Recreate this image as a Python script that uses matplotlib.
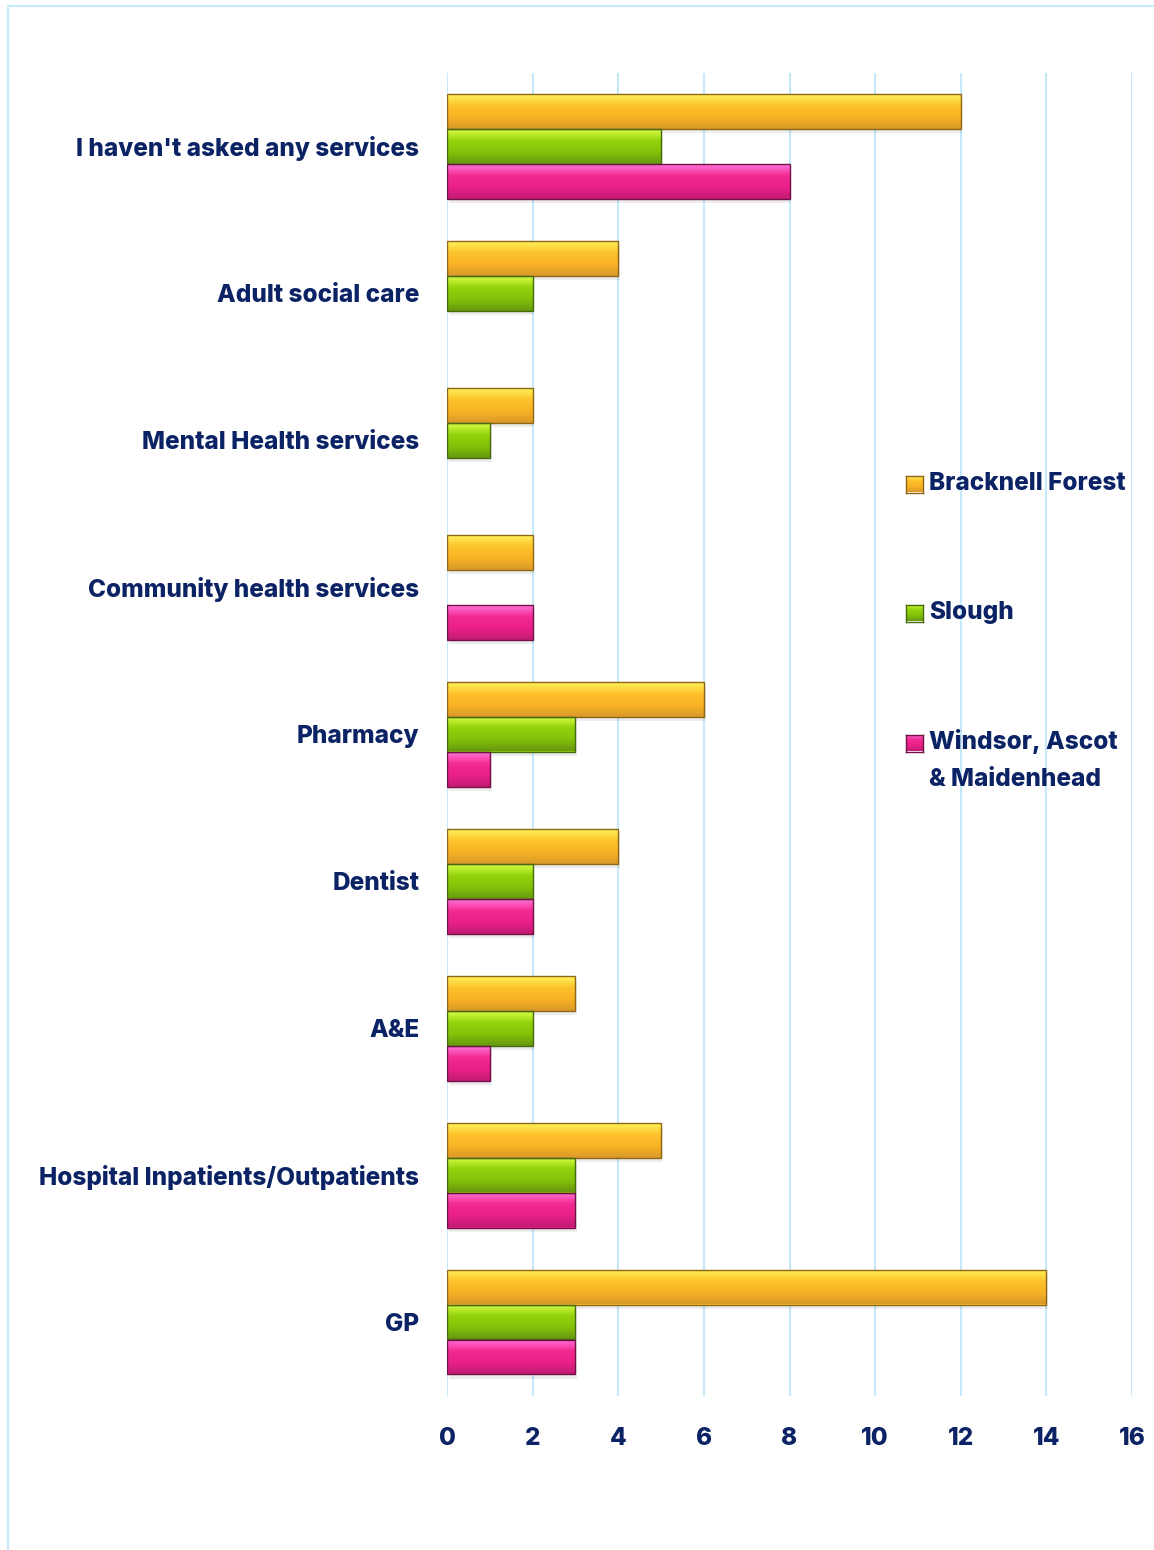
import numpy as np
import matplotlib
matplotlib.use("Agg")
import matplotlib.pyplot as plt
from matplotlib.patches import Rectangle
from matplotlib.colors import LinearSegmentedColormap

categories = ["I haven't asked any services", "Adult social care", "Mental Health services",
              "Community health services", "Pharmacy", "Dentist", "A&E",
              "Hospital Inpatients/Outpatients", "GP"]
bracknell = [12, 4, 2, 2, 6, 4, 3, 5, 14]
slough = [5, 2, 1, 0, 3, 2, 2, 3, 3]
windsor = [8, 0, 0, 2, 1, 2, 1, 3, 3]
series_names = ["Bracknell Forest", "Slough", "Windsor, Ascot\n& Maidenhead"]
xticks = [0, 2, 4, 6, 8, 10, 12, 14, 16]

TEXT = "#0b2265"
FONT = ["Inter", "DejaVu Sans"]
plt.rcParams['font.family'] = FONT
FS = 17.5
WEIGHT = "heavy"

styles = [
    dict(colors=["#fff25a", "#fdc22c", "#f9b224", "#d89a2a"], edge="#8f6516"),
    dict(colors=["#d8ff45", "#93d20c", "#84c20a", "#66980f"], edge="#486a0e"),
    dict(colors=["#ff74da", "#f22a92", "#ea2088", "#c21c74"], edge="#741046"),
]

fig = plt.figure(figsize=(11.54, 15.5), dpi=100)
ax = fig.add_axes([447/1154, 154.5/1550, (1132-447)/1154, (1395.5-72.5)/1550])

y = np.arange(len(categories))
h = 35/147
data = [bracknell, slough, windsor]
offsets = [-h, 0, h]
grad = np.linspace(0, 1, 64).reshape(-1, 1)

for s, (vals, off, st) in enumerate(zip(data, offsets, styles)):
    cmap = LinearSegmentedColormap.from_list(f"g{s}", st["colors"])
    st["cmap"] = cmap
    bars = ax.barh(y + off, vals, height=h, color=st["colors"][1], edgecolor="none", zorder=3)
    for b in bars:
        w = b.get_width()
        if w <= 0:
            continue
        y0 = b.get_y()
        ax.add_patch(Rectangle((0.04, y0 + 0.03), w, h, facecolor="#000000", alpha=0.07,
                               edgecolor="none", zorder=2))
        im = ax.imshow(grad, cmap=cmap, aspect="auto", origin="upper",
                       extent=(0, w, y0 + h, y0), zorder=4, interpolation="bilinear")
        im.set_clip_path(b)
        ax.add_patch(Rectangle((0, y0), w, h, facecolor="none", edgecolor=st["edge"],
                               linewidth=1.0, zorder=5))

ax.set_xlim(0, 16)
ax.set_ylim(len(categories) - 0.5, -0.5)
ax.set_xticks(xticks)
ax.set_yticks(y)
ax.set_yticklabels(categories)
ax.grid(axis="x", color="#c6eafb", linewidth=1.5, zorder=0)
ax.set_axisbelow(True)
for sp in ax.spines.values():
    sp.set_visible(False)
ax.tick_params(axis="both", length=0, colors=TEXT, labelsize=FS)
ax.tick_params(axis="x", pad=23)
ax.tick_params(axis="y", pad=20)
for lab in ax.get_xticklabels() + ax.get_yticklabels():
    lab.set_fontweight(WEIGHT)
    lab.set_color(TEXT)

# legend, placed manually
leg_y = [484, 613, 743]
for name, st, ly in zip(series_names, styles, leg_y):
    fy = 1 - ly/1550
    sq_h = 17/1550
    sq_w = 17/1154
    lax = fig.add_axes([906/1154, fy - sq_h/2, sq_w, sq_h])
    lax.imshow(grad, cmap=st["cmap"], aspect="auto", interpolation="bilinear")
    lax.set_xticks([]); lax.set_yticks([])
    for sp in lax.spines.values():
        sp.set_color(st["edge"]); sp.set_linewidth(1)
    if "\n" in name:
        fig.text(929/1154, fy + 14/1550, name, ha="left", va="top",
                 fontsize=FS, fontweight=WEIGHT, color=TEXT, linespacing=1.75)
    else:
        fig.text(929/1154, fy, name, ha="left", va="center",
                 fontsize=FS, fontweight=WEIGHT, color=TEXT)

# outer frame
fig.add_artist(Rectangle((8/1154, -0.01), 1.2, 1 - 6/1550 + 0.01, transform=fig.transFigure,
                         facecolor="none", edgecolor="#c4ecfd", linewidth=1.5))

fig.savefig("out.png", dpi=100)
